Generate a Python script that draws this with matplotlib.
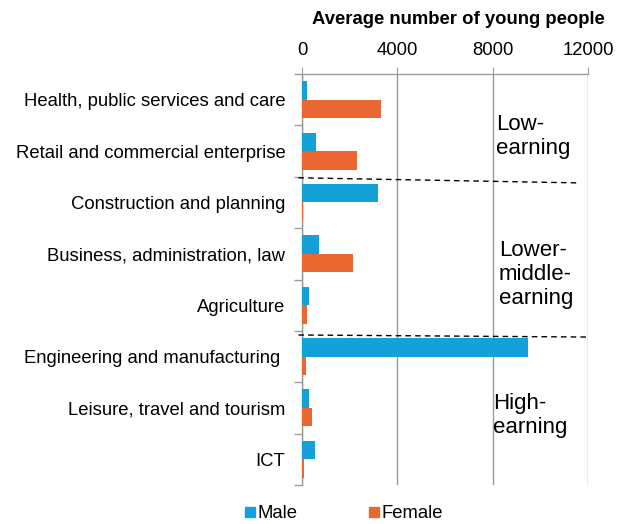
import matplotlib
matplotlib.use("Agg")
import matplotlib.pyplot as plt
from matplotlib.lines import Line2D
import numpy as np

plt.rcParams['font.family'] = ['Liberation Sans', 'DejaVu Sans']

sectors = ["Health, public services and care",
           "Retail and commercial enterprise",
           "Construction and planning",
           "Business, administration, law",
           "Agriculture",
           "Engineering and manufacturing ",
           "Leisure, travel and tourism",
           "ICT"]
male = [200, 600, 3200, 700, 300, 9500, 300, 550]
female = [3300, 2300, 20, 2150, 200, 180, 400, 100]
bands = ["Low-\nearning", "Lower-\nmiddle-\nearning", "High-\nearning"]
xticks = [0, 4000, 8000, 12000]

blue = "#14A0D9"
orange = "#EA6731"
grey = "#9B9B9B"
fs = 13.3

fig = plt.figure(figsize=(6.23, 5.24), dpi=100)
ax = fig.add_axes([0.4848, 0.0744, 0.459, 0.7844])

y = np.arange(len(sectors))
h = 0.36
ax.barh(y - h / 2, male, height=h, color=blue, zorder=3)
ax.barh(y + h / 2, female, height=h, color=orange, zorder=3)

ax.set_xlim(0, 12000)
ax.set_ylim(len(sectors) - 0.5, -0.5)
ax.xaxis.tick_top()
ax.set_xticks(xticks)
ax.set_xticklabels([str(t) for t in xticks], fontsize=fs)
ax.tick_params(axis='x', length=5, color=grey, pad=6, top=True, bottom=False)
ax.grid(axis='x', color=grey, linewidth=1, zorder=0)

ax.set_yticks(y)
ax.set_yticklabels(sectors, fontsize=fs)
ax.tick_params(axis='y', which='major', length=0, pad=12)
ax.set_yticks(np.arange(-0.5, len(sectors)), minor=True)
ax.tick_params(axis='y', which='minor', length=6, color=grey, width=1)

for side in ['right', 'bottom']:
    ax.spines[side].set_visible(False)
for side in ['left', 'top']:
    ax.spines[side].set_color(grey)
    ax.spines[side].set_linewidth(1)

# dashed separators between earning bands
ax.plot([-150, 11650], [1.52, 1.62], color='black', lw=1, ls=(0, (4, 3)),
        clip_on=False, zorder=4)
ax.plot([-150, 12000], [4.58, 4.62], color='black', lw=1, ls=(0, (4, 3)),
        clip_on=False, zorder=4)

ax.text(8150, 0.72, bands[0], fontsize=16, va='center', ha='left')
ax.text(8250, 3.4, bands[1], fontsize=16, va='center', ha='left')
ax.text(8020, 6.15, bands[2], fontsize=16, va='center', ha='left')

fig.text(0.735, 0.963, "Average number of young people", fontsize=fs,
         fontweight='bold', ha='center', va='center')

handles = [Line2D([], [], marker='s', color=blue, ls='none', markersize=7),
           Line2D([], [], marker='s', color=orange, ls='none', markersize=7)]
fig.legend(handles, ["Male", "Female"], loc='center', ncol=2,
           bbox_to_anchor=(0.553, 0.02), frameon=False, fontsize=fs,
           handlelength=0.5, handletextpad=0.15, columnspacing=3.9)

fig.savefig("out.png", dpi=100)
